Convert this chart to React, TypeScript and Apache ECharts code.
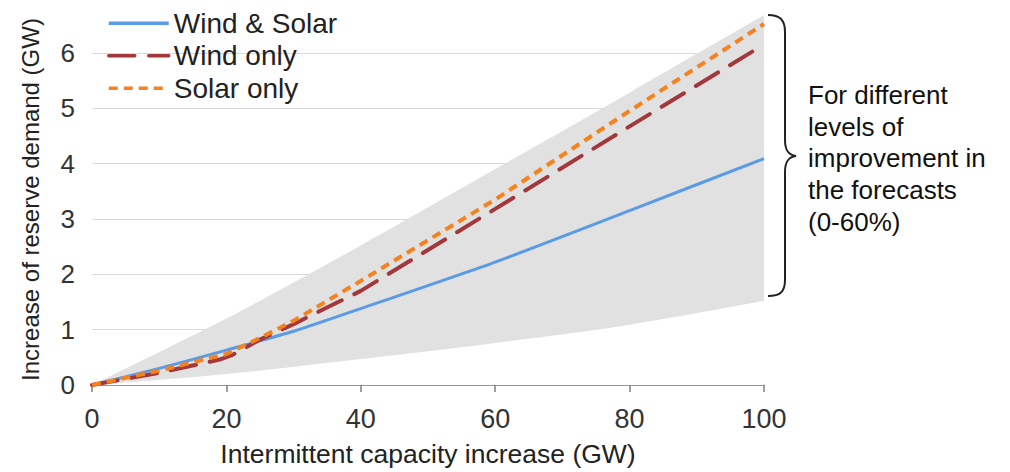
import React, { useEffect, useRef } from "react";
import * as echarts from "echarts";

const windSolar: [number, number][] = [[0, 0], [10, 0.3], [20, 0.63], [30, 0.97], [40, 1.38], [60, 2.22], [80, 3.15], [100, 4.09]];
const windOnly: [number, number][] = [[0, 0], [10, 0.22], [19, 0.46], [21, 0.55], [25, 0.82], [30, 1.1], [40, 1.7], [60, 3.18], [80, 4.67], [100, 6.15]];
const solarOnly: [number, number][] = [[0, 0], [10, 0.26], [20, 0.56], [25, 0.85], [30, 1.16], [40, 1.88], [60, 3.35], [80, 4.95], [100, 6.52]];
const bandX = [0, 20, 40, 60, 80, 100];
const bandLower = [0, 0.2, 0.47, 0.76, 1.09, 1.52];
const bandUpper = [0, 1.2, 2.52, 3.9, 5.28, 6.68];
const annotationLines = ["For different", "levels of", "improvement in", "the forecasts", "(0-60%)"];

const FONT = "'Liberation Sans', Arial, sans-serif";

const braceD =
  "M768 15 C780 15 785 20 785 32 L785 140 C785 150 788 155 796 156 C788 157 785 162 785 172 L785 280 C785 292 780 296 768 296";

export default function App() {
  const ref = useRef<HTMLDivElement>(null);
  useEffect(() => {
    if (!ref.current) return;
    echarts.graphic.registerShape("brace", echarts.graphic.extendPath(braceD, {}));
    const chart = echarts.init(ref.current, undefined, { renderer: "svg" });
    const lowerData = bandX.map((x, i) => [x, bandLower[i]]);
    const upperData = bandX.map((x, i) => [x, bandUpper[i]]);
    const gridColors = ["#d9d9d9", "#d9d9d9", "#d9d9d9", "#d9d9d9", "#d9d9d9", "#d9d9d9", "#d9d9d9", "rgba(0,0,0,0)"];
    chart.setOption({
      animation: false,
      grid: { left: 92, right: 246, top: 14, bottom: 84, containLabel: false },
      legend: {
        orient: "vertical",
        left: 102,
        top: 3,
        itemWidth: 60,
        itemHeight: 14,
        itemGap: 2,
        itemStyle: { opacity: 0 },
        lineStyle: { width: 3.5 },
        data: ["Wind & Solar", "Wind only", "Solar only"],
        textStyle: { fontFamily: FONT, fontSize: 28, color: "#222", lineHeight: 30.5 },
      },
      xAxis: {
        type: "value",
        min: 0,
        max: 100,
        interval: 20,
        name: "Intermittent capacity increase (GW)",
        nameLocation: "middle",
        nameGap: 55,
        nameTextStyle: { fontFamily: FONT, fontSize: 26.5, color: "#222" },
        axisLine: { show: true, lineStyle: { color: "#7f7f7f", width: 1.5 } },
        axisTick: { show: true, length: 7, lineStyle: { color: "#7f7f7f", width: 1.5 } },
        axisLabel: { fontFamily: FONT, fontSize: 27, color: "#333", margin: 20 },
        splitLine: { show: false },
      },
      yAxis: {
        type: "value",
        min: 0,
        max: 6.7,
        interval: 1,
        name: "Increase of reserve demand (GW)",
        nameLocation: "middle",
        nameGap: 50,
        nameTextStyle: { fontFamily: FONT, fontSize: 24, color: "#222" },
        axisLine: { show: false },
        axisTick: { show: false },
        axisLabel: { fontFamily: FONT, fontSize: 26, color: "#333", margin: 17, showMaxLabel: false },
        splitLine: { show: true, lineStyle: { color: gridColors, width: 1 } },
      },
      series: [
        {
          name: "bandUpper",
          type: "line",
          data: upperData,
          symbol: "none",
          smooth: 0.3,
          lineStyle: { opacity: 0 },
          areaStyle: { color: "#e1e1e1", opacity: 1 },
          silent: true,
          z: 1,
        },
        {
          name: "bandLower",
          type: "line",
          data: lowerData,
          symbol: "none",
          smooth: 0.4,
          lineStyle: { opacity: 0 },
          areaStyle: { color: "#ffffff", opacity: 1 },
          silent: true,
          z: 2,
        },
        {
          name: "Wind & Solar",
          type: "line",
          data: windSolar,
          symbol: "none",
          smooth: 0.2,
          lineStyle: { color: "#5b9be6", width: 3 },
          itemStyle: { color: "#5b9be6" },
          z: 3,
        },
        {
          name: "Wind only",
          type: "line",
          data: windOnly,
          symbol: "none",
          lineStyle: { color: "#a3383c", width: 4, type: [26, 14], cap: "round" },
          itemStyle: { color: "#a3383c" },
          z: 4,
        },
        {
          name: "Solar only",
          type: "line",
          data: solarOnly,
          symbol: "none",
          lineStyle: { color: "#f5821f", width: 4, type: [9, 6] },
          itemStyle: { color: "#f5821f" },
          z: 5,
        },
      ],
      graphic: [
        {
          type: "brace",
          x: 0,
          y: 0,
          style: { fill: "none", stroke: "#222", lineWidth: 2 },
          z: 10,
        },
        {
          type: "text",
          x: 808,
          y: 79,
          style: {
            text: annotationLines.join("\n"),
            fontFamily: FONT,
            fontSize: 26,
            lineHeight: 31.7,
            fill: "#111",
            verticalAlign: "top",
            align: "left",
          },
          z: 10,
        },
      ],
    });
    return () => chart.dispose();
  }, []);
  return <div ref={ref} style={{ width: 1010, height: 472, position: "absolute", left: 0, top: 0 }} />;
}
